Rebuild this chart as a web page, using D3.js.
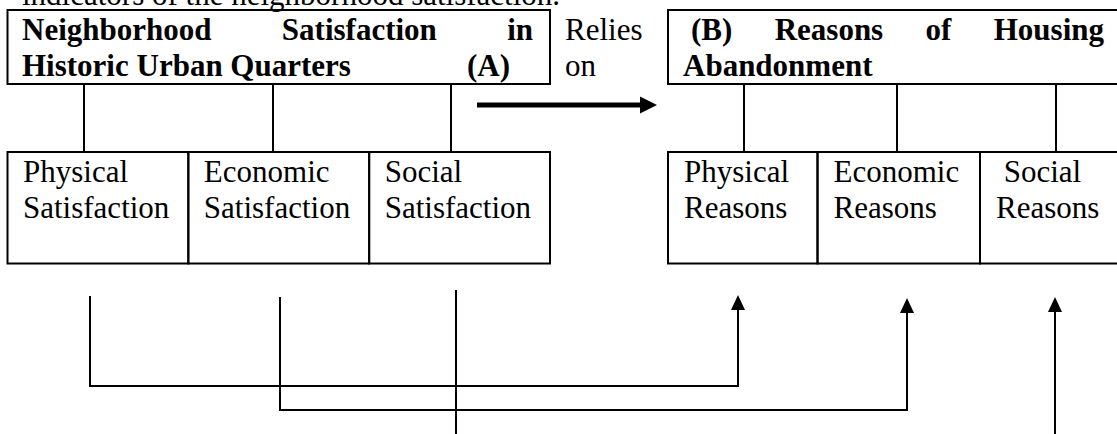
<!DOCTYPE html>
<html>
<head>
<meta charset="utf-8">
<script src="https://cdn.jsdelivr.net/npm/d3@7"></script>
<style>
  html, body { margin: 0; padding: 0; background: #fff; }
  svg { display: block; }
  text { font-family: "Liberation Serif", "Times New Roman", serif; font-size: 31px; fill: #000; white-space: pre; }
  .bold { font-weight: bold; }
</style>
</head>
<body>
<div id="diagram"></div>
<script>
// diagram content
const introLine = "indicators of the neighborhood satisfaction.";
const titleA = [["Neighborhood", "Satisfaction", "in"], ["Historic Urban Quarters", "(A)"]];
const titleB = [["(B)", "Reasons", "of", "Housing"], ["Abandonment"]];
const linkWords = ["Relies", "on"];
const partsA = [["Physical", "Satisfaction"], ["Economic", "Satisfaction"], ["Social", "Satisfaction"]];
const partsB = [["Physical", "Reasons"], ["Economic", "Reasons"], [" Social", "Reasons"]];

const width = 1117, height = 434;

const svg = d3.select("#diagram")
    .append("svg")
    .attr("width", width)
    .attr("height", height);

// layout
const boxA = { x0: 7.5, x1: 550, y0: 10, y1: 84 };
const boxB = { x0: 668, x1: 1119, y0: 10, y1: 84 };
const sub = { y0: 152, y1: 263.5 };
const xA = d3.scaleBand().domain(d3.range(partsA.length)).range([boxA.x0, boxA.x1]);
const edgesB = [668, 817.5, 980, 1119];
const connA = [84, 273, 451];
const connB = [744, 897, 1056];
const lineGap = 36;

// words spread across a line, like a justified paragraph
function justify(words, x0, x1, y, cls) {
    const nodes = words.map(w => svg.append("text").attr("class", cls).attr("y", y).text(w));
    const lens = nodes.map(n => n.node().getComputedTextLength());
    const gap = words.length > 1 ? (x1 - x0 - d3.sum(lens)) / (words.length - 1) : 0;
    let x = x0;
    nodes.forEach((n, i) => { n.attr("x", x); x += lens[i] + gap; });
}

function rect(x0, y0, x1, y1) {
    svg.append("rect")
        .attr("x", x0).attr("y", y0)
        .attr("width", x1 - x0).attr("height", y1 - y0)
        .attr("fill", "none").attr("stroke", "#000").attr("stroke-width", 2);
}

function line(pts, w) {
    svg.append("path")
        .attr("d", d3.line()(pts))
        .attr("fill", "none").attr("stroke", "#000")
        .attr("stroke-width", w || 2).attr("stroke-linejoin", "miter");
}

function head(x, y, dir, len, half) {
    // dir: "up" or "right"
    const pts = dir === "up"
        ? [[x, y], [x - half, y + len], [x + half, y + len]]
        : [[x, y], [x - len, y - half], [x - len, y + half]];
    svg.append("path").attr("d", d3.line()(pts) + "Z").attr("fill", "#000");
}

// cut-off line of the paragraph above
svg.append("text").attr("x", 22).attr("y", 5).text(introLine);

// top boxes
rect(boxA.x0, boxA.y0, boxA.x1, boxA.y1);
rect(boxB.x0, boxB.y0, boxB.x1, boxB.y1);

justify(titleA[0], 22, 533, boxA.y0 + 30, "bold");
justify(titleA[1], 22, 510, boxA.y0 + 30 + lineGap, "bold");
justify(titleB[0], 691, 1104, boxB.y0 + 30, "bold");
justify(titleB[1], 683, 1104, boxB.y0 + 30 + lineGap, "bold");

linkWords.forEach((w, i) => {
    svg.append("text").attr("x", 565).attr("y", boxA.y0 + 30 + i * lineGap).text(w);
});

// thick "relies on" arrow
line([[477, 105], [642, 105]], 5);
head(657, 105, "right", 17, 8.5);

// connectors from title boxes to the parts
connA.forEach(x => line([[x, boxA.y1], [x, sub.y0]]));
connB.forEach(x => line([[x, boxB.y1], [x, sub.y0]]));

// part boxes
partsA.forEach((p, i) => {
    const x0 = xA(i);
    rect(x0, sub.y0, x0 + xA.bandwidth(), sub.y1);
    p.forEach((w, j) => svg.append("text").attr("x", x0 + 15.5).attr("y", sub.y0 + 30 + j * lineGap).text(w));
});
partsB.forEach((p, i) => {
    const x0 = edgesB[i];
    rect(x0, sub.y0, edgesB[i + 1], sub.y1);
    p.forEach((w, j) => svg.append("text").attr("x", x0 + 16).attr("y", sub.y0 + 30 + j * lineGap).text(w));
});

// links between the parts
const flows = [
    { from: 90, to: 738, top: 296, level: 386, tip: 295 },
    { from: 280, to: 907, top: 297, level: 410, tip: 298 }
];
flows.forEach(f => {
    line([[f.from, f.top], [f.from, f.level], [f.to, f.level], [f.to, f.tip + 14]]);
    head(f.to, f.tip, "up", 15, 7);
});
line([[456, 290], [456, height]]);
line([[1055, height], [1055, 311]]);
head(1055, 297, "up", 15, 7);
</script>
</body>
</html>
